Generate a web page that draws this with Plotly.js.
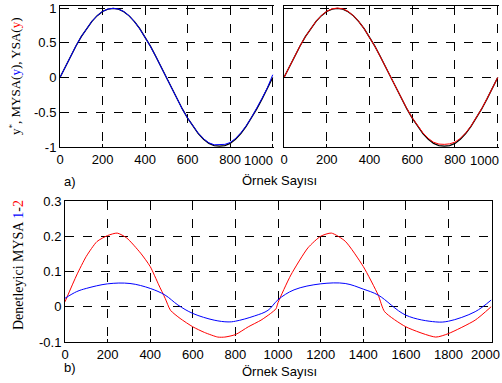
<!DOCTYPE html>
<html><head><meta charset="utf-8">
<script src="https://cdn.plot.ly/plotly-3.0.1.min.js"></script>
<style>html,body{margin:0;padding:0;background:#fff}#c{width:502px;height:383px}</style>
</head><body><div id="c"></div>
<script>
// Panel a) samples
const sampA = [0,25,50,75,100,125,150,175,200,225,250,275,300,325,350,375,400,425,450,475,500,525,550,575,600,625,650,675,700,725,750,775,800,825,850,875,900,925,950,975,1000];
const refY  = [0,0.156,0.309,0.454,0.588,0.707,0.809,0.891,0.951,0.985,0.995,0.985,0.948,0.888,0.806,0.704,0.585,0.452,0.307,0.155,0.0,-0.155,-0.307,-0.452,-0.585,-0.704,-0.806,-0.888,-0.948,-0.980,-0.988,-0.980,-0.948,-0.888,-0.806,-0.704,-0.585,-0.452,-0.307,-0.155,0.0];
const mysaY = [0,0.158,0.311,0.455,0.590,0.709,0.810,0.892,0.952,0.986,0.996,0.986,0.950,0.889,0.805,0.700,0.582,0.450,0.305,0.150,-0.005,-0.158,-0.310,-0.455,-0.586,-0.703,-0.803,-0.883,-0.940,-0.968,-0.970,-0.962,-0.935,-0.878,-0.797,-0.696,-0.576,-0.443,-0.298,-0.147,0.04];
const ysaY  = [0,0.157,0.310,0.455,0.589,0.708,0.810,0.893,0.955,0.990,1.000,0.990,0.952,0.890,0.806,0.702,0.583,0.450,0.305,0.153,0.0,-0.153,-0.304,-0.448,-0.580,-0.697,-0.797,-0.876,-0.932,-0.958,-0.962,-0.955,-0.930,-0.876,-0.798,-0.698,-0.580,-0.448,-0.304,-0.153,0.0];

// Panel b) controller outputs
const sampRed = [0,55,100,150,200,245,290,355,400,440,470,495,540,600,655,717,750,800,860,920,965,990,1000,1060,1140,1200,1250,1315,1400,1470,1500,1600,1740,1800,1925,2000];
const redY    = [0.014,0.09,0.143,0.185,0.202,0.209,0.195,0.152,0.114,0.062,0.024,-0.01,-0.033,-0.057,-0.073,-0.086,-0.086,-0.079,-0.057,-0.038,-0.019,-0.006,0.012,0.09,0.167,0.2,0.209,0.186,0.114,0.033,-0.014,-0.057,-0.086,-0.076,-0.038,0.0];
const sampBlue = [0,55,100,200,305,400,470,530,600,700,765,800,890,953,1000,1075,1200,1315,1400,1470,1600,1740,1800,1925,2000];
const blueY    = [0.024,0.043,0.052,0.065,0.066,0.052,0.033,0.005,-0.019,-0.038,-0.043,-0.041,-0.026,-0.01,0.02,0.048,0.065,0.066,0.05,0.033,-0.024,-0.043,-0.041,-0.014,0.019];

const ticksA = [0,200,400,600,800,1000];
const ticksAtext = ['0','200','400','600','800',''];
const ticksAy = [-1,-0.5,0,0.5,1];
const ticksB = [0,200,400,600,800,1000,1200,1400,1600,1800,2000];
const ticksBtext = ['0','200','400','600','800','1000','1200','1400','1600','1800',''];
const ticksBy = [-0.1,0,0.1,0.2,0.3];

const W=502,H=383;
const px=v=>v/W, py=v=>(H-v)/H;
const tf={family:'Liberation Sans, Arial, sans-serif',size:13,color:'#000'};
function ax(extra){return Object.assign({showgrid:true,gridcolor:'#000',griddash:'dash',gridwidth:1,zeroline:false,showline:true,linecolor:'#000',linewidth:1,ticks:'inside',ticklen:3,tickcolor:'#000',tickfont:tf,fixedrange:true},extra);}

const traces=[
 {x:sampA,y:refY,xaxis:'x',yaxis:'y',mode:'lines',line:{color:'#000',width:1.3}},
 {x:sampA,y:mysaY,xaxis:'x',yaxis:'y',mode:'lines',line:{color:'#0000ff',width:1}},
 {x:sampA,y:refY,xaxis:'x2',yaxis:'y2',mode:'lines',line:{color:'#000',width:1.3}},
 {x:sampA,y:ysaY,xaxis:'x2',yaxis:'y2',mode:'lines',line:{color:'#ff0000',width:1}},
 {x:sampRed,y:redY,xaxis:'x3',yaxis:'y3',mode:'lines',line:{color:'#ff0000',width:1,shape:'spline',smoothing:0.6}},
 {x:sampBlue,y:blueY,xaxis:'x3',yaxis:'y3',mode:'lines',line:{color:'#0000ff',width:1,shape:'spline'}}
];
const lastLbl=(xr,xv,txt,yp,sh)=>({text:txt,xref:xr,yref:'paper',x:xv,y:py(yp),xanchor:'right',yanchor:'middle',xshift:sh,showarrow:false,font:tf});
const layout={
 width:W,height:H,margin:{l:0,r:0,t:0,b:0},showlegend:false,
 paper_bgcolor:'#fff',plot_bgcolor:'#fff',
 xaxis:ax({domain:[px(60),px(274)],range:[0,1006],tickvals:ticksA,ticktext:ticksAtext,mirror:true,anchor:'y'}),
 yaxis:ax({domain:[py(147),py(6)],range:[-1,1.03],tickvals:ticksAy,ticktext:['-1','-0.5','0','0.5','1'],anchor:'x'}),
 xaxis2:ax({domain:[px(284),px(499)],range:[0,1006],tickvals:ticksA,ticktext:ticksAtext,mirror:true,anchor:'y2'}),
 yaxis2:ax({domain:[py(147),py(6)],range:[-1,1.03],tickvals:ticksAy,showticklabels:false,anchor:'x2'}),
 xaxis3:ax({domain:[px(65),px(492)],range:[0,2004],tickvals:ticksB,ticktext:ticksBtext,mirror:true,anchor:'y3'}),
 yaxis3:ax({domain:[py(342),py(201)],range:[-0.1,0.3],tickvals:ticksBy,ticktext:['-0.1','0','0.1','0.2','0.3'],mirror:true,anchor:'x3'}),
 annotations:[
  lastLbl('x',1000,'1000',160,2),
  lastLbl('x2',1000,'1000',160,3),
  lastLbl('x3',2000,'2000',354,11),
  {text:'a)',xref:'paper',yref:'paper',x:px(62),y:py(181),xanchor:'left',yanchor:'middle',showarrow:false,font:tf},
  {text:'Örnek Sayısı',xref:'paper',yref:'paper',x:px(279),y:py(180),xanchor:'center',yanchor:'middle',showarrow:false,font:tf},
  {text:'b)',xref:'paper',yref:'paper',x:px(62),y:py(367),xanchor:'left',yanchor:'middle',showarrow:false,font:tf},
  {text:'Örnek Sayısı',xref:'paper',yref:'paper',x:px(279),y:py(371),xanchor:'center',yanchor:'middle',showarrow:false,font:tf},
  {text:"y<sup>*</sup>, MYSA(<span style='color:#0000ff'>y</span>), YSA(<span style='color:#ff0000'>y</span>)",xref:'paper',yref:'paper',x:px(15),y:py(77),xanchor:'center',yanchor:'middle',textangle:-90,showarrow:false,font:{family:'Liberation Serif, Times New Roman, serif',size:13,color:'#000'}},
  {text:"Denetleyici MYSA <span style='color:#0000ff'>1</span>-<span style='color:#ff0000'>2</span>",xref:'paper',yref:'paper',x:px(18),y:py(265),xanchor:'center',yanchor:'middle',textangle:-90,showarrow:false,font:{family:'Liberation Serif, Times New Roman, serif',size:14,color:'#000'}}
 ]
};
Plotly.newPlot('c',traces,layout,{staticPlot:true,displayModeBar:false});
</script></body></html>
